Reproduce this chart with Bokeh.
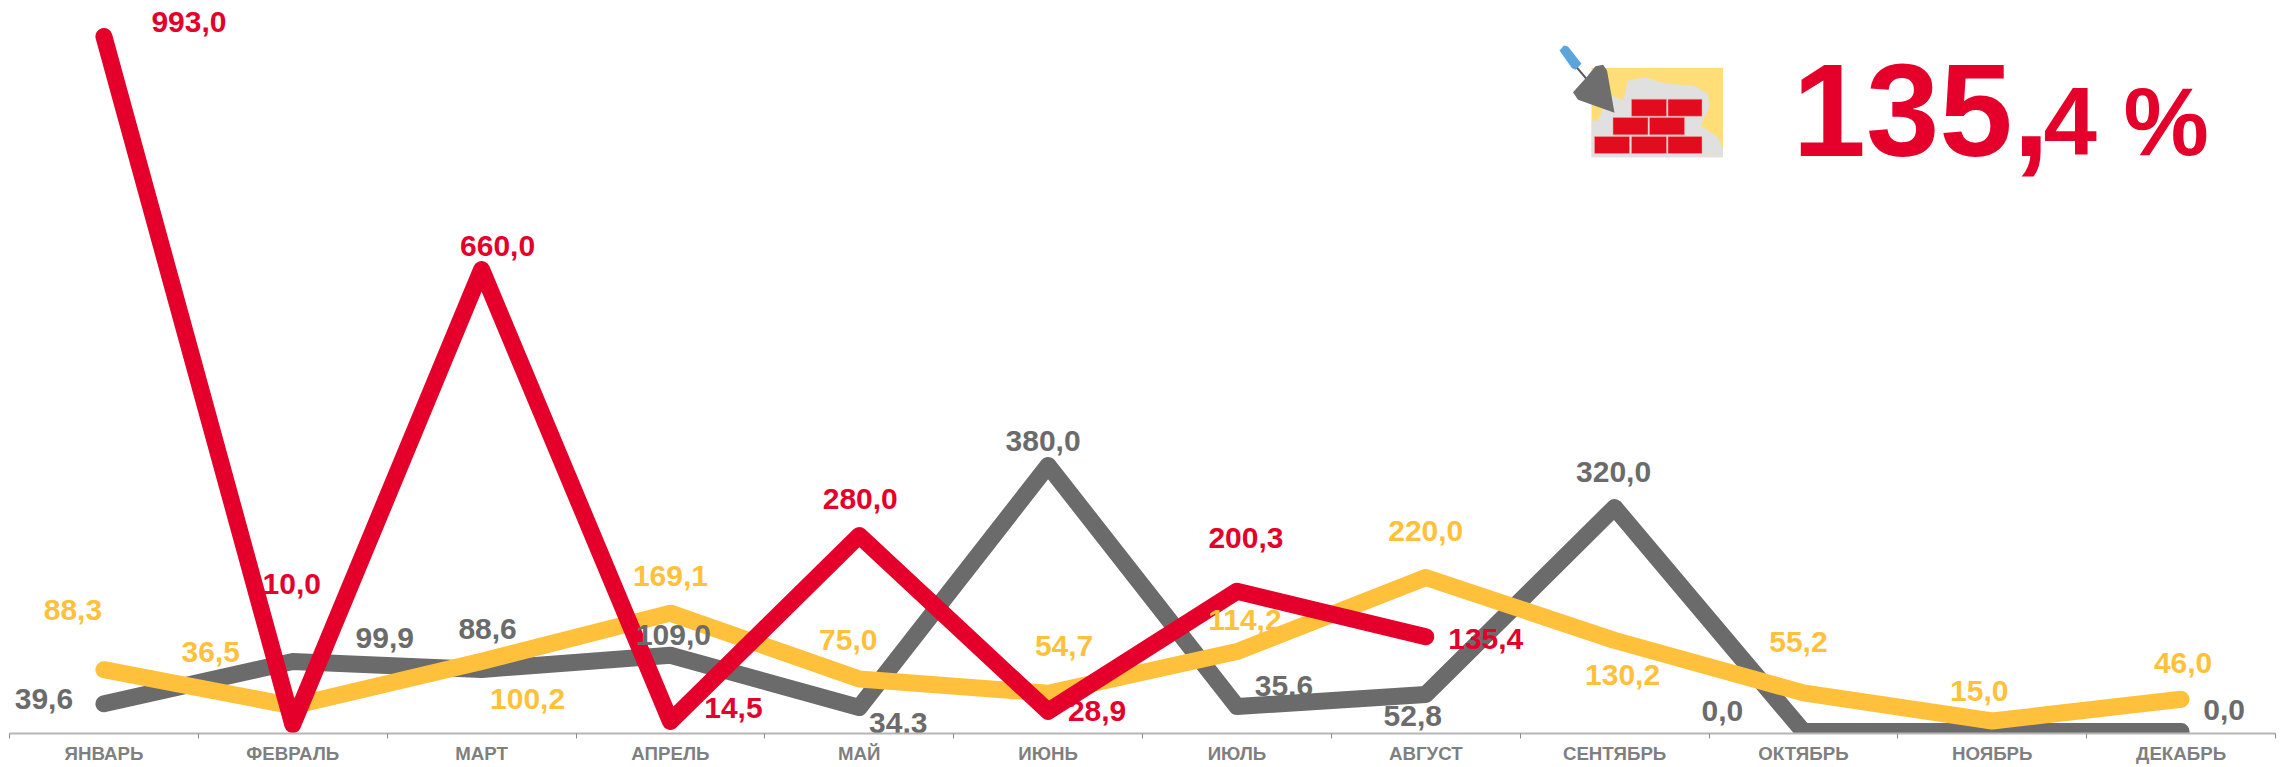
from bokeh.plotting import figure
from bokeh.models import Range1d, LinearAxis, FixedTicker, ColumnDataSource
from bokeh.core.properties import value
from bokeh.embed import file_html
from bokeh.resources import INLINE

months = ["ЯНВАРЬ", "ФЕВРАЛЬ", "МАРТ", "АПРЕЛЬ", "МАЙ", "ИЮНЬ", "ИЮЛЬ", "АВГУСТ",
          "СЕНТЯБРЬ", "ОКТЯБРЬ", "НОЯБРЬ", "ДЕКАБРЬ"]
gray_values = [39.6, 99.9, 88.6, 109.0, 34.3, 380.0, 35.6, 52.8, 320.0, 0.0, 0.0, 0.0]
yellow_values = [88.3, 36.5, 100.2, 169.1, 75.0, 54.7, 114.2, 220.0, 130.2, 55.2, 15.0, 46.0]
red_values = [993.0, 10.0, 660.0, 14.5, 280.0, 28.9, 200.3, 135.4]

# label offsets from each point, in pixels (dx, dy downward); None = no label shown
gray_off = [(-60,-5),(92,-24),(6,-40),(3,-20),(39,16),(-5,-25),(47,-21),(-13,21),(-1,-36),(-81,-20),None,(43,-21)]
yellow_off = [(-31,-60),(-82,-54),(46,38),(0,-37),(-11,-39),(16,-47),(8,-32),(0,-47),(8,35),(-5,-51),(-13,-30),(2,-36)]
red_off = [(85,-14),(-1,-140),(16,-24),(63,-13),(1,-37),(49,0),(9,-53),(60,2)]

GRAY, YELLOW, RED = "#6b6b6b", "#ffc13b", "#e4002b"
FONT = value("Liberation Sans")

p = figure(width=2285, height=767, frame_width=2266, frame_height=725,
           output_backend="svg", toolbar_location=None,
           x_range=Range1d(0, 12), y_range=Range1d(-2.86, 1032.9),
           min_border_left=9, min_border_right=10, min_border_top=8, min_border_bottom=34,
           x_axis_location=None, y_axis_location=None,
           background_fill_color="white", border_fill_color="white", outline_line_color=None)
p.grid.visible = False

# overlay coordinate system for the decorative icon and headline (page pixels)
p.extra_x_ranges["px"] = Range1d(9, 2275)
p.extra_y_ranges["px"] = Range1d(733, 8)

axis = LinearAxis(ticker=FixedTicker(ticks=[i + 0.5 for i in range(12)],
                                     minor_ticks=list(range(13))),
                  major_label_overrides={i + 0.5: m for i, m in enumerate(months)},
                  axis_line_color="#b5b5b5", axis_line_width=2,
                  major_tick_line_color=None, major_tick_out=0, major_tick_in=0,
                  minor_tick_line_color="#8c8c8c", minor_tick_line_width=1,
                  minor_tick_out=5, minor_tick_in=0,
                  major_label_text_font="Liberation Sans", major_label_text_font_style="bold",
                  major_label_text_font_size="18.7px", major_label_text_color="#7f7f7f",
                  major_label_standoff=4)
p.add_layout(axis, "below")

for vals, col in [(gray_values, GRAY), (yellow_values, YELLOW), (red_values, RED)]:
    p.line([i + 0.5 for i in range(len(vals))], vals, line_color=col, line_width=17,
           line_cap="round", line_join="round")

def fmt(v):
    return f"{v:.1f}".replace(".", ",")

for vals, off, col in [(gray_values, gray_off, GRAY), (yellow_values, yellow_off, YELLOW),
                       (red_values, red_off, RED)]:
    idx = [i for i in range(len(vals)) if off[i] is not None]
    src = ColumnDataSource(dict(x=[i + 0.5 for i in idx], y=[vals[i] for i in idx],
                                t=[fmt(vals[i]) for i in idx],
                                dx=[off[i][0] for i in idx], dy=[off[i][1] for i in idx]))
    p.text("x", "y", "t", source=src, x_offset="dx", y_offset="dy", text_align="center",
           text_baseline="middle", text_font=FONT, text_font_style="bold",
           text_font_size="30px", text_color=col)

# icon, traced in the coordinates of the zoomed crop
def zx(X): return 1500 + X / 2
def zy(Y): return 20 + Y / 3
def poly(pts, color):
    p.patch([zx(a) for a, b in pts], [zy(b) for a, b in pts], fill_color=color, line_color=None,
            x_range_name="px", y_range_name="px")

poly([(182,142),(445,142),(445,410),(182,410)], "#ffdd77")
poly([(182,410),(445,410),(445,385),(435,350),(400,315),(418,260),(415,220),(385,195),(330,190),
      (290,170),(255,180),(245,240),(225,225),(205,265),(195,300),(182,300)], "#e0e0e0")
bricks = [(262,332,236,287),(335,403,236,287),(225,295,291,343),(298,368,291,343),
          (188,258,348,399),(262,332,348,399),(335,403,348,399)]
p.quad(left=[zx(b[0]) for b in bricks], right=[zx(b[1]) for b in bricks],
       top=[zy(b[2]) for b in bricks], bottom=[zy(b[3]) for b in bricks],
       fill_color="#e30b1e", line_color="#f0a0a0", line_width=0.5,
       x_range_name="px", y_range_name="px")
p.line([zx(152), zx(172)], [zy(140), zy(175)], line_color="#555555", line_width=2,
       x_range_name="px", y_range_name="px")
poly([(118,90),(127,75),(135,78),(162,130),(150,148),(143,143)], "#5ba5dc")
poly([(190,137),(205,133),(213,150),(228,277),(155,238),(145,215),(172,170)], "#6e6e6e")

p.text([1792], [110], ["135,"], text_font=FONT, text_font_style="bold", text_font_size="132px",
       text_color=RED, text_baseline="middle", x_range_name="px", y_range_name="px")
p.text([2043], [121], ["4 %"], text_font=FONT, text_font_style="bold", text_font_size="96px",
       text_color=RED, text_baseline="middle", x_range_name="px", y_range_name="px")

open("out.html", "w").write(file_html(p, INLINE))
